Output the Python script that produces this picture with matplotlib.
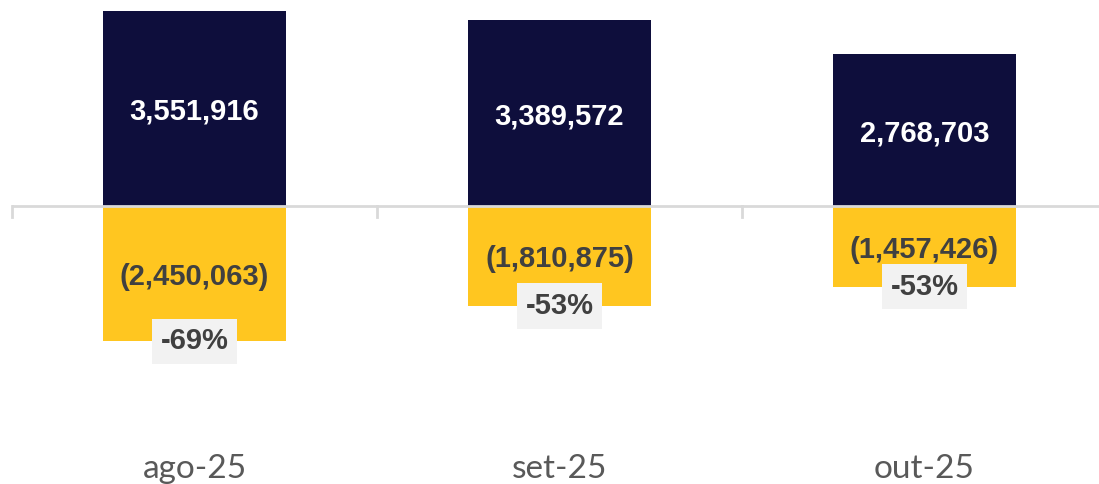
import matplotlib.pyplot as plt
import matplotlib.transforms as mtransforms

months = ['ago-25', 'set-25', 'out-25']
positives = [3551916, 3389572, 2768703]
negatives = [-2450063, -1810875, -1457426]
pct_labels = ['-69%', '-53%', '-53%']

navy = '#0E0E3C'
yellow = '#FFC620'
dark_text = '#404040'

fig = plt.figure(figsize=(10.99, 4.84), dpi=100)
ax = fig.add_axes([12 / 1099, 0, 1095 / 1099, 1])

x = range(len(months))
ax.bar(x, positives, width=0.5, color=navy, zorder=2)
ax.bar(x, negatives, width=0.5, color=yellow, zorder=2)

ax.set_xlim(-0.5, 2.5)
ax.set_ylim(-5040000, 3750000)

# zero line with separators between categories
ax.axhline(0, color='#D9D9D9', lw=2, zorder=3)
for b in [-0.5, 0.5, 1.5, 2.5]:
    ax.plot([b, b], [0, -185000], color='#D9D9D9', lw=2, zorder=3, clip_on=False)

for i in x:
    ax.text(i, positives[i] / 2, f'{positives[i]:,}', ha='center', va='center_baseline',
            color='white', fontsize=21, fontweight='bold', family='Liberation Sans', zorder=4)
    ax.text(i, negatives[i] / 2, f'({-negatives[i]:,})', ha='center', va='center_baseline',
            color=dark_text, fontsize=21, fontweight='bold', family='Liberation Sans', zorder=4)
    ax.text(i, negatives[i], pct_labels[i], ha='center', va='center',
            color=dark_text, fontsize=21, fontweight='bold', family='Liberation Sans', zorder=4,
            bbox=dict(boxstyle='square,pad=0.3', fc='#F2F2F2', ec='none'))

trans = mtransforms.blended_transform_factory(ax.transData, ax.transAxes)
for i, m in enumerate(months):
    ax.text(i, 0.032, m, transform=trans, ha='center', va='center',
            color='#595959', fontsize=24, family='Lato')

ax.axis('off')
fig.savefig('out.png', dpi=100)
